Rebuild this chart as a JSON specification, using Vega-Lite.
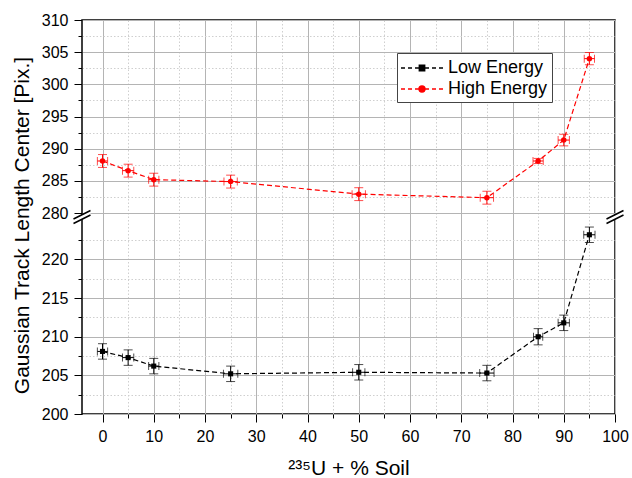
{
  "$schema": "https://vega.github.io/schema/vega-lite/v6.json",
  "width": 533,
  "height": 394,
  "autosize": "none",
  "padding": {"left": 82, "top": 20, "right": 17, "bottom": 64},
  "config": {
    "font": "Liberation Sans",
    "view": {"stroke": "black", "strokeWidth": 1.5},
    "axis": {
      "domain": false,
      "tickColor": "black",
      "labelColor": "black",
      "titleColor": "black",
      "labelFlush": false,
      "labelOverlap": false,
      "zindex": 0
    }
  },
  "data": {
    "values": [
      {"series": "Low Energy", "x": 0, "y": 208.1, "xerr": 1.0, "yerr": 1.0},
      {"series": "Low Energy", "x": 5, "y": 207.3, "xerr": 1.1, "yerr": 1.0},
      {"series": "Low Energy", "x": 10, "y": 206.2, "xerr": 1.0, "yerr": 1.0},
      {"series": "Low Energy", "x": 25, "y": 205.2, "xerr": 1.4, "yerr": 1.0},
      {"series": "Low Energy", "x": 50, "y": 205.4, "xerr": 1.2, "yerr": 1.0},
      {"series": "Low Energy", "x": 75, "y": 205.3, "xerr": 1.4, "yerr": 1.0},
      {"series": "Low Energy", "x": 85, "y": 210.0, "xerr": 0.9, "yerr": 1.05},
      {"series": "Low Energy", "x": 90, "y": 211.8, "xerr": 1.1, "yerr": 1.0},
      {"series": "Low Energy", "x": 95, "y": 223.2, "xerr": 1.1, "yerr": 1.0},
      {"series": "High Energy", "x": 0, "y": 288.1, "xerr": 1.0, "yerr": 1.0},
      {"series": "High Energy", "x": 5, "y": 286.6, "xerr": 1.1, "yerr": 1.0},
      {"series": "High Energy", "x": 10, "y": 285.2, "xerr": 1.0, "yerr": 1.0},
      {"series": "High Energy", "x": 25, "y": 284.9, "xerr": 1.3, "yerr": 1.0},
      {"series": "High Energy", "x": 50, "y": 282.95, "xerr": 1.3, "yerr": 1.0},
      {"series": "High Energy", "x": 75, "y": 282.4, "xerr": 1.3, "yerr": 1.0},
      {"series": "High Energy", "x": 85, "y": 288.1, "xerr": 1.0, "yerr": 0.4},
      {"series": "High Energy", "x": 90, "y": 291.35, "xerr": 1.1, "yerr": 0.9},
      {"series": "High Energy", "x": 95, "y": 304.0, "xerr": 1.0, "yerr": 0.95}
    ]
  },
  "resolve": {"axis": {"x": "independent", "y": "independent"}},
  "layer": [
    {
      "mark": {"type": "point", "opacity": 0},
      "encoding": {
        "x": {
          "field": "x", "type": "quantitative",
          "scale": {"domain": [-4, 100], "nice": false, "zero": false},
          "axis": {
            "orient": "bottom", "values": [5, 15, 25, 35, 45, 55, 65, 75, 85, 95],
            "labels": false, "tickSize": 4, "title": null,
            "grid": true, "gridColor": "#cfcfcf", "gridDash": [1.5, 2], "gridWidth": 1
          }
        },
        "y": {
          "field": "y", "type": "quantitative",
          "scale": {"domain": [200, 225.5, 279.4, 310], "range": [394, 197, 197, 0], "nice": false, "zero": false},
          "axis": {
            "orient": "left", "values": [202.5, 207.5, 212.5, 217.5, 222.5, 282.5, 287.5, 292.5, 297.5, 302.5, 307.5],
            "labels": false, "tickSize": 4, "title": null,
            "grid": true, "gridColor": "#cfcfcf", "gridDash": [1.5, 2], "gridWidth": 1
          }
        }
      }
    },
    {
      "mark": {"type": "point", "opacity": 0},
      "encoding": {
        "x": {
          "field": "x", "type": "quantitative",
          "scale": {"domain": [-4, 100], "nice": false, "zero": false},
          "axis": {
            "orient": "bottom", "values": [0, 10, 20, 30, 40, 50, 60, 70, 80, 90, 100],
            "tickSize": 8, "labelFontSize": 16, "labelPadding": 6,
            "title": "²³⁵U + % Soil", "titleFontSize": 21, "titleFontWeight": "normal", "titlePadding": 13,
            "grid": true, "gridColor": "#b4b4b4", "gridWidth": 1
          }
        },
        "y": {
          "field": "y", "type": "quantitative",
          "scale": {"domain": [200, 225.5, 279.4, 310], "range": [394, 197, 197, 0], "nice": false, "zero": false},
          "axis": {
            "orient": "left", "values": [200, 205, 210, 215, 220, 280, 285, 290, 295, 300, 305, 310],
            "tickSize": 8, "labelFontSize": 16, "labelPadding": 6,
            "title": "Gaussian Track Length Center [Pix.]", "titleFontSize": 21, "titleFontWeight": "normal", "titlePadding": 9, "titleY": 205,
            "grid": true, "gridColor": "#b4b4b4", "gridWidth": 1
          }
        }
      }
    },
    {
      "mark": {"type": "point", "filled": false, "opacity": 0},
      "encoding": {
        "x": {"field": "x", "type": "quantitative", "scale": {"domain": [-4, 100], "nice": false, "zero": false}, "axis": null},
        "y": {"field": "y", "type": "quantitative", "scale": {"domain": [200, 225.5, 279.4, 310], "range": [394, 197, 197, 0], "nice": false, "zero": false}, "axis": null},
        "stroke": {
          "field": "series", "type": "nominal",
          "scale": {"domain": ["Low Energy", "High Energy"], "range": ["black", "red"]},
          "legend": {
            "title": null, "orient": "none", "legendX": 315, "legendY": 33,
            "fillColor": "white", "strokeColor": "#444", "padding": 4,
            "symbolSize": 400, "symbolOffset": 10, "labelOffset": 15,
            "labelFontSize": 18, "labelColor": "black", "rowPadding": 1,
            "symbolStrokeWidth": 1.4, "symbolOpacity": 1
          }
        },
        "shape": {
          "field": "series", "type": "nominal",
          "scale": {
            "domain": ["Low Energy", "High Energy"],
            "range": [
              "M-2.1,0H-1.7M-1.4,0H-1M-0.7,0H-0.3M0.3,0H0.7M1,0H1.4M1.7,0H2.1M-0.27,-0.27H0.27V0.27H-0.27ZM-0.13,-0.13H0.13V0.13H-0.13ZM-0.27,0H0.27",
              "M-2.1,0H-1.7M-1.4,0H-1M-0.7,0H-0.3M0.3,0H0.7M1,0H1.4M1.7,0H2.1M0.3,0A0.3,0.3 0 1 1 -0.3,0A0.3,0.3 0 1 1 0.3,0ZM0.13,0A0.13,0.13 0 1 1 -0.13,0A0.13,0.13 0 1 1 0.13,0ZM-0.3,0H0.3"
            ]
          },
          "legend": {
            "title": null, "orient": "none", "legendX": 315, "legendY": 33,
            "fillColor": "white", "strokeColor": "#444", "padding": 4,
            "symbolSize": 400, "symbolOffset": 10, "labelOffset": 15,
            "labelFontSize": 18, "labelColor": "black", "rowPadding": 1,
            "symbolStrokeWidth": 1.4, "symbolOpacity": 1
          }
        }
      }
    },
    {
      "mark": {"type": "line", "strokeDash": [5, 3], "strokeWidth": 1.2},
      "encoding": {
        "x": {"field": "x", "type": "quantitative", "scale": {"domain": [-4, 100], "nice": false, "zero": false}, "axis": null},
        "y": {"field": "y", "type": "quantitative", "scale": {"domain": [200, 225.5, 279.4, 310], "range": [394, 197, 197, 0], "nice": false, "zero": false}, "axis": null},
        "color": {"field": "series", "type": "nominal", "scale": {"domain": ["Low Energy", "High Energy"], "range": ["black", "red"]}, "legend": null}
      }
    },
    {
      "mark": {"type": "errorbar", "ticks": {"size": 9}, "thickness": 1},
      "encoding": {
        "x": {"field": "x", "type": "quantitative", "scale": {"domain": [-4, 100], "nice": false, "zero": false}, "axis": null},
        "y": {"field": "y", "type": "quantitative", "scale": {"domain": [200, 225.5, 279.4, 310], "range": [394, 197, 197, 0], "nice": false, "zero": false}, "axis": null},
        "yError": {"field": "yerr"},
        "color": {"field": "series", "type": "nominal", "scale": {"domain": ["Low Energy", "High Energy"], "range": ["black", "red"]}, "legend": null}
      }
    },
    {
      "mark": {"type": "errorbar", "ticks": {"size": 8}, "thickness": 1},
      "encoding": {
        "x": {"field": "x", "type": "quantitative", "scale": {"domain": [-4, 100], "nice": false, "zero": false}, "axis": null},
        "xError": {"field": "xerr"},
        "y": {"field": "y", "type": "quantitative", "scale": {"domain": [200, 225.5, 279.4, 310], "range": [394, 197, 197, 0], "nice": false, "zero": false}, "axis": null},
        "color": {"field": "series", "type": "nominal", "scale": {"domain": ["Low Energy", "High Energy"], "range": ["black", "red"]}, "legend": null}
      }
    },
    {
      "transform": [{"filter": "datum.series === 'Low Energy'"}],
      "mark": {"type": "point", "filled": true, "shape": "square", "size": 26, "color": "black", "opacity": 1},
      "encoding": {
        "x": {"field": "x", "type": "quantitative", "scale": {"domain": [-4, 100], "nice": false, "zero": false}, "axis": null},
        "y": {"field": "y", "type": "quantitative", "scale": {"domain": [200, 225.5, 279.4, 310], "range": [394, 197, 197, 0], "nice": false, "zero": false}, "axis": null}
      }
    },
    {
      "transform": [{"filter": "datum.series === 'High Energy'"}],
      "mark": {"type": "point", "filled": true, "shape": "circle", "size": 30, "color": "red", "opacity": 1},
      "encoding": {
        "x": {"field": "x", "type": "quantitative", "scale": {"domain": [-4, 100], "nice": false, "zero": false}, "axis": null},
        "y": {"field": "y", "type": "quantitative", "scale": {"domain": [200, 225.5, 279.4, 310], "range": [394, 197, 197, 0], "nice": false, "zero": false}, "axis": null}
      }
    },
    {
      "data": {"values": [{}]},
      "mark": {"type": "point", "shape": "M-0.85,0.2L0.85,-0.65L0.85,-0.2L-0.85,0.65Z", "size": 400, "filled": true, "fill": "white", "strokeWidth": 0, "opacity": 1},
      "encoding": {
        "x": {"datum": -4, "type": "quantitative", "scale": {"domain": [-4, 100], "nice": false, "zero": false}, "axis": null},
        "y": {"datum": 250, "type": "quantitative", "scale": {"domain": [200, 225.5, 279.4, 310], "range": [394, 197, 197, 0], "nice": false, "zero": false}, "axis": null}
      }
    },
    {
      "data": {"values": [{}]},
      "mark": {"type": "point", "shape": "M-0.85,0.2L0.85,-0.65L0.85,-0.2L-0.85,0.65Z", "size": 400, "filled": true, "fill": "white", "strokeWidth": 0, "opacity": 1},
      "encoding": {
        "x": {"datum": 100, "type": "quantitative", "scale": {"domain": [-4, 100], "nice": false, "zero": false}, "axis": null},
        "y": {"datum": 250, "type": "quantitative", "scale": {"domain": [200, 225.5, 279.4, 310], "range": [394, 197, 197, 0], "nice": false, "zero": false}, "axis": null}
      }
    },
    {
      "data": {"values": [{}]},
      "mark": {"type": "point", "shape": "M-0.85,0.2L0.85,-0.65M-0.85,0.65L0.85,-0.2", "size": 400, "filled": false, "stroke": "black", "strokeWidth": 1.5, "opacity": 1},
      "encoding": {
        "x": {"datum": -4, "type": "quantitative", "scale": {"domain": [-4, 100], "nice": false, "zero": false}, "axis": null},
        "y": {"datum": 250, "type": "quantitative", "scale": {"domain": [200, 225.5, 279.4, 310], "range": [394, 197, 197, 0], "nice": false, "zero": false}, "axis": null}
      }
    },
    {
      "data": {"values": [{}]},
      "mark": {"type": "point", "shape": "M-0.85,0.2L0.85,-0.65M-0.85,0.65L0.85,-0.2", "size": 400, "filled": false, "stroke": "black", "strokeWidth": 1.5, "opacity": 1},
      "encoding": {
        "x": {"datum": 100, "type": "quantitative", "scale": {"domain": [-4, 100], "nice": false, "zero": false}, "axis": null},
        "y": {"datum": 250, "type": "quantitative", "scale": {"domain": [200, 225.5, 279.4, 310], "range": [394, 197, 197, 0], "nice": false, "zero": false}, "axis": null}
      }
    }
  ]
}
